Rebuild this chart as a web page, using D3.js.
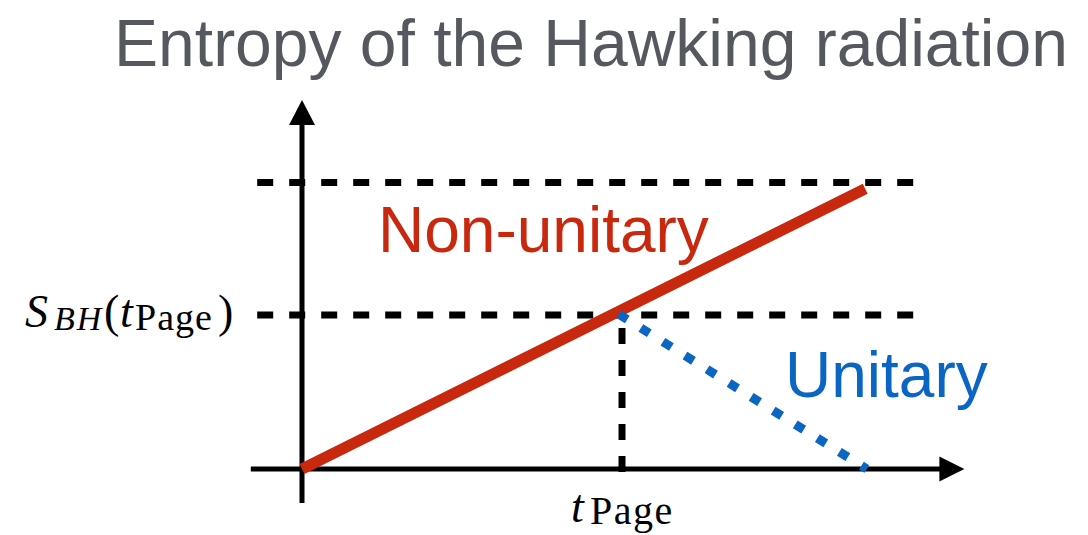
<!DOCTYPE html>
<html>
<head>
<meta charset="utf-8">
<script src="https://cdn.jsdelivr.net/npm/d3@7"></script>
<style>
  html, body { margin: 0; padding: 0; background: #fff; }
  svg { display: block; }
</style>
</head>
<body>
<svg id="chart" width="1088" height="535"></svg>
<script>
// ---------- data ----------
const titleText = "Entropy of the Hawking radiation";
// Non-unitary (Hawking) curve: time vs entropy
const nonUnitaryT = [0, 1.76];
const nonUnitaryS = [0, 1.82];
// Unitary (Page) curve after the Page time
const unitaryT = [0.99, 1.765];
const unitaryS = [1.005, 0];
// reference levels: S_BH(t_Page) and the maximal entropy level
const levelValues = [1, 1.86];
// Page time
const pageTime = [1];
const seriesLabels = ["Non-unitary", "Unitary"];

// ---------- layout ----------
const svg = d3.select("#chart");
const x = d3.scaleLinear().domain([0, 2]).range([302, 942]);
const y = d3.scaleLinear().domain([0, 2]).range([469, 161]);
const xAxisExt = [-0.16, 2.07];
const yAxisExt = [-0.22, 2.396];
const levelExt = [-0.14, 1.91];

const RED = "#c8290e";
const BLUE = "#0b66c3";
const GRAY = "#55595f";

// title
svg.append("text")
  .attr("x", 591).attr("y", 66)
  .attr("text-anchor", "middle")
  .attr("font-family", "'Liberation Sans', Arial, sans-serif")
  .attr("font-size", 66)
  .attr("fill", GRAY)
  .text(titleText);

// dashed reference lines
svg.selectAll("line.level").data(levelValues).join("line")
  .attr("class", "level")
  .attr("x1", x(levelExt[0])).attr("x2", x(levelExt[1]))
  .attr("y1", d => y(d)).attr("y2", d => y(d))
  .attr("stroke", "#000").attr("stroke-width", 7)
  .attr("stroke-dasharray", "16 16");

svg.selectAll("line.pageT").data(pageTime).join("line")
  .attr("class", "pageT")
  .attr("x1", d => x(d)).attr("x2", d => x(d))
  .attr("y1", y(0) + 3).attr("y2", y(levelValues[0]))
  .attr("stroke", "#000").attr("stroke-width", 7)
  .attr("stroke-dasharray", "16 16");

// axes
const axisW = 5;
svg.append("line")
  .attr("x1", x(xAxisExt[0])).attr("x2", x(xAxisExt[1]) - 24)
  .attr("y1", y(0)).attr("y2", y(0))
  .attr("stroke", "#000").attr("stroke-width", axisW);
svg.append("line")
  .attr("x1", x(0)).attr("x2", x(0))
  .attr("y1", y(yAxisExt[0])).attr("y2", y(yAxisExt[1]) + 24)
  .attr("stroke", "#000").attr("stroke-width", axisW);
// arrow heads
const xt = x(xAxisExt[1]), yt = y(yAxisExt[1]);
svg.append("path")
  .attr("d", `M${xt},${y(0)} L${xt - 25},${y(0) - 12.5} L${xt - 25},${y(0) + 12.5} Z`)
  .attr("fill", "#000");
svg.append("path")
  .attr("d", `M${x(0)},${yt} L${x(0) - 13},${yt + 25} L${x(0) + 13},${yt + 25} Z`)
  .attr("fill", "#000");

// curves
const line = d3.line().x(d => x(d[0])).y(d => y(d[1]));
svg.append("path")
  .datum(nonUnitaryT.map((t, i) => [t, nonUnitaryS[i]]))
  .attr("d", line)
  .attr("fill", "none").attr("stroke", RED).attr("stroke-width", 11);
svg.append("path")
  .datum(unitaryT.map((t, i) => [t, unitaryS[i]]))
  .attr("d", line)
  .attr("fill", "none").attr("stroke", BLUE).attr("stroke-width", 9)
  .attr("stroke-dasharray", "10 16");

// series labels
svg.append("text")
  .attr("x", 378).attr("y", 252)
  .attr("font-family", "'Liberation Sans', Arial, sans-serif")
  .attr("font-size", 64).attr("fill", RED)
  .text(seriesLabels[0]);
svg.append("text")
  .attr("x", 785).attr("y", 397)
  .attr("font-family", "'Liberation Sans', Arial, sans-serif")
  .attr("font-size", 64).attr("fill", BLUE)
  .text(seriesLabels[1]);

// math labels
const serif = "'Liberation Serif', 'Times New Roman', serif";
const yl = svg.append("text")
  .attr("font-family", serif).attr("font-size", 46).attr("fill", "#000");
const yb = y(levelValues[0]) + 12;
yl.append("tspan").attr("x", 25).attr("y", yb).attr("font-style", "italic").text("S");
yl.append("tspan").attr("x", 54).attr("y", yb + 3).attr("font-style", "italic")
  .attr("font-size", 34).attr("letter-spacing", 2).text("BH");
yl.append("tspan").attr("x", 104).attr("y", yb).text("(");
yl.append("tspan").attr("x", 120).attr("y", yb).attr("font-style", "italic").text("t");
yl.append("tspan").attr("x", 135).attr("y", yb + 3)
  .attr("font-size", 38).attr("letter-spacing", 1).text("Page");
yl.append("tspan").attr("x", 218).attr("y", yb).text(")");

const xl = svg.append("text")
  .attr("font-family", serif).attr("font-size", 46).attr("fill", "#000");
const xb = 522;
xl.append("tspan").attr("x", x(pageTime[0]) - 51).attr("y", xb).attr("font-style", "italic").text("t");
xl.append("tspan").attr("x", x(pageTime[0]) - 32).attr("y", xb + 2)
  .attr("font-size", 40).attr("letter-spacing", 1.5).text("Page");
</script>
</body>
</html>
